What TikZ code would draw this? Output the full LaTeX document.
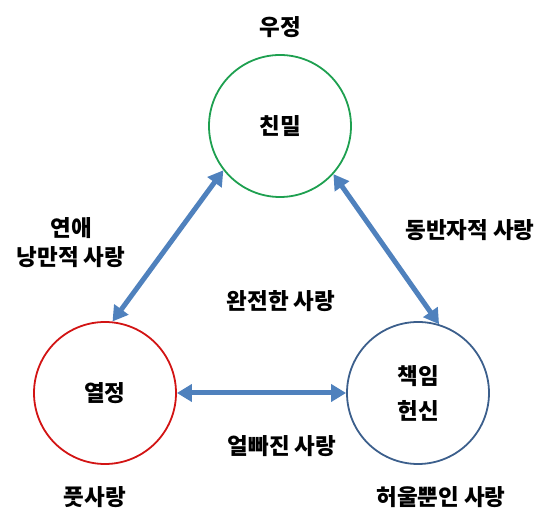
\documentclass[tikz,border=0pt]{standalone}
\usepackage{fontspec}
\setmainfont{Noto Sans CJK KR}
\usepackage{xcolor}
\usepackage{tikz}
\usetikzlibrary{arrows.meta, positioning}
\definecolor{intimgreen}{RGB}{30,160,80}
\definecolor{passionred}{RGB}{210,20,20}
\definecolor{commitblue}{RGB}{60,95,140}
\definecolor{linkblue}{RGB}{79,129,189}
\tikzset{
    lovecircle/.style={circle, draw=#1, line width=1.8pt, minimum size=142pt, inner sep=0pt, align=center, font=\fontsize{22.5}{35}\selectfont\bfseries},
    lovelabel/.style={align=center, font=\fontsize{22.5}{29}\selectfont\bfseries},
    lovearrow/.style={{Triangle[length=15pt,width=17pt]}-{Triangle[length=15pt,width=17pt]}, linkblue, line width=5pt}
}

\begin{document}
\begin{tikzpicture}[x=1pt, y=1pt]
\useasboundingbox (0,0) rectangle (550,525);

\node[lovecircle=intimgreen] (intim) at (280,399) {친밀};
\node[lovecircle=passionred] (pass) at (105,132) {열정};
\node[lovecircle=commitblue] (commit) at (418,132) {책임\\헌신};

\node[lovelabel] (friend) at (280,498) {우정};
\node[lovelabel] (roman) at (71,282) {연애\\낭만적 사랑};
\node[lovelabel] (compan) at (470,295) {동반자적 사랑};
\node[lovelabel] (consum) at (281,224) {완전한 사랑};
\node[lovelabel] (fatuous) at (282,79) {얼빠진 사랑};
\node[lovelabel] (infat) at (95,28) {풋사랑};
\node[lovelabel] (empty) at (441,28) {허울뿐인 사랑};

\draw[lovearrow] (pass.84) -- (intim.218);
\draw[lovearrow] (intim.318) -- (commit.73);
\draw[lovearrow] (pass.east) -- (commit.west);

\end{tikzpicture}
\end{document}
